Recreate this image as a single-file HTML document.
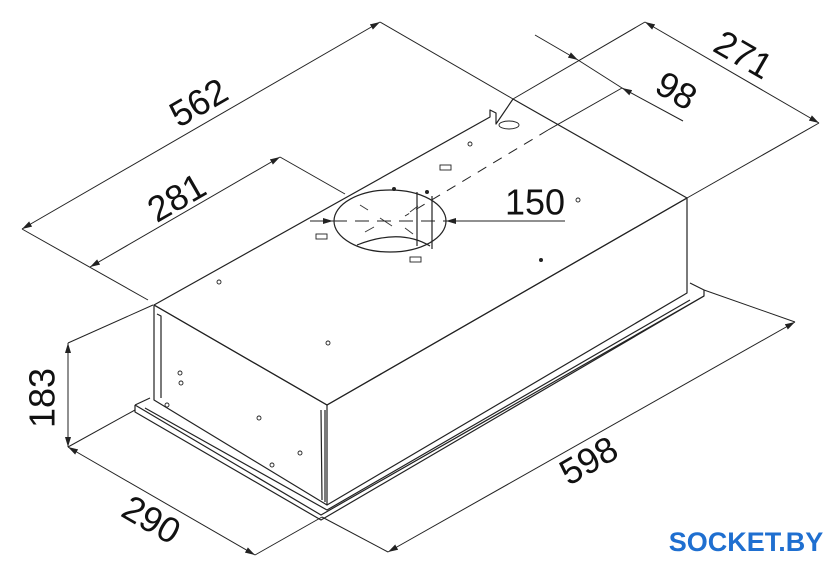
<!DOCTYPE html>
<html><head><style>
html,body{margin:0;padding:0;background:#fff;}
svg{display:block}
text{font-family:"Liberation Sans",sans-serif;fill:#111}
</style></head><body>
<svg width="840" height="577" viewBox="0 0 840 577" xmlns="http://www.w3.org/2000/svg">
<defs>
<marker id="a" viewBox="0 0 10 6" refX="10" refY="3" markerWidth="10" markerHeight="6" orient="auto-start-reverse" markerUnits="userSpaceOnUse"><path d="M0,0 L10,3 L0,6 z" fill="#222"/></marker>
</defs>
<g stroke="#222" stroke-width="1.2" fill="none" stroke-linejoin="round">
<!-- top face -->
<path d="M154,305 L490,117 L490,110 L496,113 L496,124 L513,99 L687,198 L327,405 Z" fill="#fff"/>
<!-- left face -->
<path d="M154,305 L327,405 L327,505 L154,400 Z"/>
<!-- right face -->
<path d="M327,405 L687,198 L687,293 L327,505"/>
<!-- flange -->
<path d="M135,405 L321,515 L704,296 L704,290 L690,283"/>
<path d="M135,405 L135,412 L321,520 L704,296"/>
<path d="M135,405 L150,398"/>
<path d="M145,408 L327,510 L690,300"/>
<!-- strips -->
<path d="M157,314 L161,316 L161,398"/>
<path d="M321,410 L322,500 M325,410 L325,502"/>
<!-- ellipse -->
<ellipse cx="390" cy="221" rx="56" ry="31" fill="#fff"/>
<path d="M357,245 Q400,228 430,246" />
<line x1="417" y1="192" x2="417" y2="246"/>
<line x1="432" y1="196" x2="432" y2="249"/>
</g>
<g stroke="#333" stroke-width="0.9">
<line x1="360" y1="205" x2="368" y2="210"/><line x1="410" y1="212" x2="418" y2="206"/>
<line x1="365" y1="232" x2="374" y2="227"/><line x1="405" y1="228" x2="413" y2="234"/>
<line x1="380" y1="218" x2="392" y2="226"/>
</g>
<g fill="#fff" stroke="#222" stroke-width="0.9">
<rect x="440" y="165" width="11" height="5"/>
<rect x="316" y="234" width="11" height="5"/>
<rect x="410" y="257" width="11" height="5"/>
<circle cx="470" cy="144" r="2"/><circle cx="578" cy="200" r="2"/>
<circle cx="219" cy="282" r="2"/><circle cx="328" cy="343" r="2"/>
<circle cx="180" cy="373" r="2"/><circle cx="181" cy="383" r="2"/><circle cx="167" cy="405" r="2"/>
<circle cx="259" cy="418" r="2"/><circle cx="300" cy="453" r="2"/><circle cx="272" cy="465" r="2"/>
<ellipse cx="509" cy="125" rx="10" ry="4"/>
</g>
<g fill="#222"><circle cx="394" cy="189" r="2"/><circle cx="427" cy="192" r="2"/><circle cx="541" cy="260" r="2"/></g>
<g stroke="#222" stroke-width="1" fill="none">
<!-- 562 -->
<line x1="22" y1="229" x2="380" y2="22" marker-start="url(#a)" marker-end="url(#a)"/>
<line x1="22" y1="229" x2="148" y2="300"/>
<line x1="380" y1="22" x2="513" y2="99"/>
<!-- 281 -->
<line x1="90" y1="267" x2="280" y2="157" marker-start="url(#a)" marker-end="url(#a)"/>
<line x1="280" y1="157" x2="345" y2="194"/>
<!-- 271 -->
<line x1="645" y1="22" x2="819" y2="123" marker-start="url(#a)" marker-end="url(#a)"/>
<line x1="645" y1="22" x2="513" y2="99"/>
<line x1="819" y1="123" x2="687" y2="198"/>
<!-- 98 -->
<line x1="535" y1="35" x2="578" y2="60" marker-end="url(#a)"/>
<line x1="683" y1="121" x2="622" y2="88" marker-end="url(#a)"/>
<line x1="578" y1="60" x2="622" y2="88"/>
<line x1="622" y1="88" x2="548" y2="130"/>
<line x1="548" y1="130" x2="405" y2="216" stroke-dasharray="10,8"/>
<!-- 150 -->
<line x1="310" y1="221" x2="333" y2="221" marker-end="url(#a)"/>
<line x1="565" y1="221" x2="446" y2="221" marker-end="url(#a)"/>
<line x1="333" y1="221" x2="446" y2="221" stroke-dasharray="14,8"/>
<!-- 183 -->
<line x1="68" y1="343" x2="68" y2="447" marker-start="url(#a)" marker-end="url(#a)"/>
<line x1="68" y1="343" x2="153" y2="305"/>
<line x1="68" y1="447" x2="135" y2="410"/>
<!-- 290 -->
<line x1="68" y1="447" x2="255" y2="555" marker-start="url(#a)" marker-end="url(#a)"/>
<line x1="255" y1="555" x2="322" y2="517"/>
<!-- 598 -->
<line x1="388" y1="552" x2="795" y2="322" marker-start="url(#a)" marker-end="url(#a)"/>
<line x1="322" y1="517" x2="388" y2="552"/>
<line x1="704" y1="290" x2="795" y2="322"/>
</g>
<text x="200" y="105" font-size="36" text-anchor="middle" dominant-baseline="middle" transform="rotate(-30 200 105)">562</text>
<text x="178" y="200" font-size="36" text-anchor="middle" dominant-baseline="middle" transform="rotate(-30 178 200)">281</text>
<text x="742" y="57" font-size="36" text-anchor="middle" dominant-baseline="middle" transform="rotate(30 742 57)">271</text>
<text x="675" y="93" font-size="36" text-anchor="middle" dominant-baseline="middle" transform="rotate(30 675 93)">98</text>
<text x="535" y="205" font-size="36" text-anchor="middle" dominant-baseline="middle">150</text>
<text x="45" y="398" font-size="36" text-anchor="middle" dominant-baseline="middle" transform="rotate(-90 45 398)">183</text>
<text x="150" y="522" font-size="36" text-anchor="middle" dominant-baseline="middle" transform="rotate(30 150 522)">290</text>
<text x="590" y="463" font-size="36" text-anchor="middle" dominant-baseline="middle" transform="rotate(-30 590 463)">598</text>
<text x="746" y="551" font-size="27" font-weight="bold" text-anchor="middle" style="fill:#1f6fd0">SOCKET.BY</text>
</svg>
</body></html>
